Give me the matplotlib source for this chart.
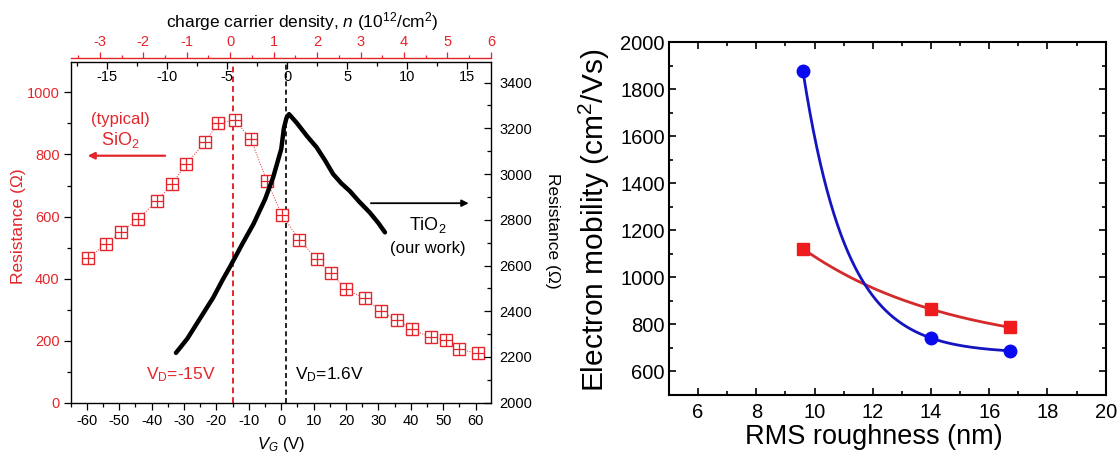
import numpy as np
import matplotlib
matplotlib.use('Agg')
import matplotlib.pyplot as plt
from matplotlib.ticker import MultipleLocator

plt.rcParams['font.family'] = ['Liberation Sans', 'DejaVu Sans']
plt.rcParams['mathtext.fontset'] = 'custom'
plt.rcParams['mathtext.rm'] = 'Liberation Sans'
plt.rcParams['mathtext.it'] = 'Liberation Sans:italic'
plt.rcParams['axes.unicode_minus'] = False

RED = '#e3262b'

# ---------------- data: left panel ----------------
sio2_vg = [-59.7, -54.2, -49.4, -44.2, -38.3, -33.7, -29.4, -23.5, -19.5, -14.3,
           -9.4, -4.4, 0.2, 5.5, 10.9, 15.3, 20.1, 25.8, 30.7, 35.6, 40.3, 46.1,
           50.9, 54.9, 60.7]
sio2_r = [466, 511, 550, 592, 650, 705, 769, 840, 901, 911,
          850, 714, 605, 526, 464, 417, 365, 336, 295, 266, 236, 211,
          202, 172, 159]

tio2_vg = [-32.5, -29, -25, -21, -18, -15.8, -12, -8.6, -5, -2.5, 0, 0.8, 1.6,
           2.4, 4.7, 8, 10.9, 13.5, 16, 18.5, 21.2, 24, 27.3, 30, 32.0]
tio2_r = [2218, 2280, 2370, 2460, 2540, 2595, 2695, 2781, 2890, 2986, 3110, 3200,
          3245, 3262, 3225, 3165, 3117, 3060, 3000, 2960, 2925, 2880, 2832, 2785, 2745]

vd_sio2 = -15
vd_tio2 = 1.6

# ---------------- data: right panel ----------------
roughness = [9.6, 14.0, 16.7]
mob_red = [1122, 865, 788]
mob_blue = [1878, 742, 688]

fig = plt.figure(figsize=(11.18, 4.55), dpi=100)

# ================= LEFT PANEL =================
ax = fig.add_axes([0.0632, 0.1149, 0.3759, 0.7488])
ax.set_xlim(-65, 64.7)
ax.set_ylim(0, 1098)
ax.plot(sio2_vg, sio2_r, ls=':', lw=0.7, color=RED, zorder=3)
ax.plot(sio2_vg, sio2_r, ls='none', marker='s', ms=8, mfc='white', mec=RED, mew=1.0, zorder=4)
ax.plot(sio2_vg, sio2_r, ls='none', marker='+', ms=8, mec=RED, mew=0.9, zorder=5)
ax.axvline(vd_sio2, color=RED, ls=(0, (3, 2)), lw=1.4, zorder=2)
ax.axvline(vd_tio2, color='k', ls=(0, (3, 2)), lw=1.2, zorder=2)

ax.xaxis.set_major_locator(MultipleLocator(10))
ax.xaxis.set_minor_locator(MultipleLocator(5))
ax.yaxis.set_major_locator(MultipleLocator(200))
ax.yaxis.set_minor_locator(MultipleLocator(100))
ax.tick_params(axis='x', which='both', direction='out', top=False, labelsize=10.5, pad=3)
ax.tick_params(axis='x', which='major', length=5, width=0.9)
ax.tick_params(axis='x', which='minor', length=3, width=0.9)
ax.tick_params(axis='y', which='both', direction='out', right=False, labelsize=10.5,
               labelcolor=RED, pad=3)
ax.tick_params(axis='y', which='major', length=5, width=0.9)
ax.tick_params(axis='y', which='minor', length=3, width=0.9)
for s in ax.spines.values():
    s.set_linewidth(1.0)
ax.set_xlabel('$V_G$ (V)', fontsize=12)
ax.xaxis.set_label_coords(0.5, -0.095)
ax.set_ylabel('Resistance (Ω)', fontsize=12.5, color=RED)
ax.yaxis.set_label_coords(-0.106, 0.519)

# annotations
ax.annotate('', xy=(-60.6, 796), xytext=(-35, 796),
            arrowprops=dict(arrowstyle='-|>', color=RED, lw=1.6, mutation_scale=10))
ax.text(-49.8, 913, '(typical)', color=RED, fontsize=12, ha='center', va='center')
ax.text(-49.8, 846, 'SiO$_2$', color=RED, fontsize=13, ha='center', va='center')
ax.annotate('', xy=(58.7, 643), xytext=(26.8, 643),
            arrowprops=dict(arrowstyle='-|>', color='k', lw=1.3, mutation_scale=10))
ax.text(45.3, 573, 'TiO$_2$', color='k', fontsize=13, ha='center', va='center')
ax.text(45.3, 498, '(our work)', color='k', fontsize=12, ha='center', va='center')
ax.text(-20.2, 92, 'V$_\\mathrm{D}$=-15V', color=RED, fontsize=12.5, ha='right', va='center')
ax.text(4.2, 92, 'V$_\\mathrm{D}$=1.6V', color='k', fontsize=12.5, ha='left', va='center')

# right axis (TiO2)
ax2 = ax.twinx()
ax2.set_ylim(2000, 3490)
ax2.plot(tio2_vg, tio2_r, color='k', lw=3.2, solid_capstyle='round', solid_joinstyle='round')
ax2.yaxis.set_major_locator(MultipleLocator(200))
ax2.yaxis.set_minor_locator(MultipleLocator(100))
ax2.tick_params(axis='y', which='both', direction='in', labelsize=10.5, pad=6)
ax2.tick_params(axis='y', which='major', length=5, width=0.9)
ax2.tick_params(axis='y', which='minor', length=3, width=0.9)
for s in ax2.spines.values():
    s.set_visible(False)
ax2.set_ylabel('Resistance (Ω)', fontsize=12.5, rotation=270)
ax2.yaxis.set_label_coords(1.165, 0.506)

# inner top axis
ax3 = ax.twiny()
ax3.set_xlim(-18.0, 16.95)
ax3.xaxis.set_major_locator(MultipleLocator(5))
ax3.xaxis.set_minor_locator(MultipleLocator(2.5))
ax3.tick_params(axis='x', which='both', direction='in', labelsize=10.5, pad=-16)
ax3.tick_params(axis='x', which='major', length=5, width=0.9)
ax3.tick_params(axis='x', which='minor', length=3, width=0.9)
for s in ax3.spines.values():
    s.set_visible(False)

# red top axis (carrier density)
ax4 = ax.twiny()
ax4.set_xlim(-3.67, 6)
for k, s in ax4.spines.items():
    s.set_visible(k == 'top')
ax4.spines['top'].set_position(('outward', 2.7))
ax4.spines['top'].set_color(RED)
ax4.spines['top'].set_linewidth(1.0)
ax4.xaxis.set_major_locator(MultipleLocator(1))
ax4.xaxis.set_minor_locator(MultipleLocator(0.5))
ax4.tick_params(axis='x', which='both', direction='out', colors=RED, labelsize=10.5, pad=2)
ax4.tick_params(axis='x', which='major', length=4.5, width=0.9)
ax4.tick_params(axis='x', which='minor', length=2.5, width=0.9)

fig.text(302 / 1118, 1 - 22 / 455, 'charge carrier density, $n$ (10$^{12}$/cm$^2$)',
         ha='center', va='center', fontsize=12.5)

# ================= RIGHT PANEL =================
axr = fig.add_axes([0.5984, 0.1319, 0.3906, 0.7752])
axr.set_xlim(5, 20)
axr.set_ylim(500, 2000)


def exp_decay_fit(x, y):
    x = np.asarray(x, float)
    y = np.asarray(y, float)
    d1, d2 = x[1] - x[0], x[2] - x[0]
    r = (y[1] - y[2]) / (y[0] - y[1])

    def f(t):
        a, b = np.exp(-d1 / t), np.exp(-d2 / t)
        return (a - b) / (1 - a) - r
    lo, hi = 0.05, 200.0
    for _ in range(200):
        mid = 0.5 * (lo + hi)
        if f(lo) * f(mid) <= 0:
            hi = mid
        else:
            lo = mid
    t = 0.5 * (lo + hi)
    a = np.exp(-d1 / t)
    A = (y[0] - y[1]) / (1 - a)
    c = y[0] - A
    xs = np.linspace(x[0], x[2], 300)
    return xs, c + A * np.exp(-(xs - x[0]) / t)


xr, yr = exp_decay_fit(roughness, mob_red)
xb, yb = exp_decay_fit(roughness, mob_blue)
axr.plot(xr, yr, color='#d42a2a', lw=2.0, zorder=3)
axr.plot(xb, yb, color='#1414c0', lw=2.0, zorder=3)
axr.plot(roughness, mob_red, ls='none', marker='s', ms=8, color='#ee1c1c', zorder=4)
axr.plot(roughness, mob_blue, ls='none', marker='o', ms=9, color='#0a0af0', zorder=4)

axr.xaxis.set_major_locator(MultipleLocator(2))
axr.xaxis.set_minor_locator(MultipleLocator(1))
axr.yaxis.set_major_locator(MultipleLocator(200))
axr.yaxis.set_minor_locator(MultipleLocator(100))
axr.tick_params(axis='both', which='both', direction='in', top=True, right=True,
                labelsize=14.5)
axr.tick_params(axis='x', which='both', pad=6)
axr.tick_params(axis='y', which='both', pad=3)
axr.tick_params(which='major', length=5, width=1.2)
axr.tick_params(which='minor', length=3, width=1.2)
axr.set_yticks([600, 800, 1000, 1200, 1400, 1600, 1800, 2000])
for s in axr.spines.values():
    s.set_linewidth(1.5)
axr.set_xlabel('RMS roughness (nm)', fontsize=19.5)
axr.xaxis.set_label_coords(0.47, -0.082)
axr.set_ylabel('Electron mobility (cm$^2$/Vs)', fontsize=21.5)
axr.yaxis.set_label_coords(-0.1305, 0.495)

fig.savefig('out.png', dpi=100)
